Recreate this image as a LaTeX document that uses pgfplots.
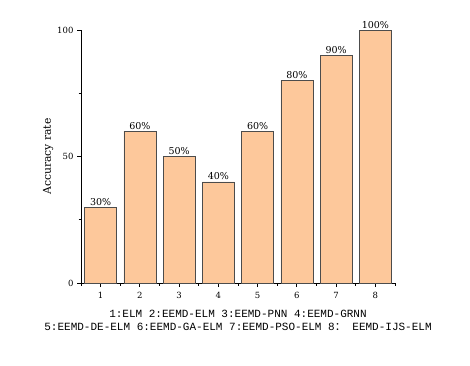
\documentclass[border=0pt]{standalone}
\usepackage{fontspec}
\setmainfont{DejaVu Serif}
\newfontfamily\monofont{Liberation Mono}
\newfontfamily\cjk{Noto Sans CJK SC}
\usepackage{pgfplots}
\pgfplotsset{compat=1.18}
\definecolor{barfill}{RGB}{253,200,155}

\begin{document}
\begin{tikzpicture}[x=1pt,y=1pt]
\path[use as bounding box] (0,0) rectangle (470,365);
\begin{axis}[
  at={(81pt,82pt)}, anchor=south west,
  scale only axis, width=314pt, height=253pt,
  xmin=0.5, xmax=8.5, ymin=0, ymax=100,
  axis x line*=bottom, axis y line*=left,
  axis line style={line width=0.8pt},
  xtick={1,...,8}, minor xtick={0.5,1.5,...,8.5},
  ytick={0,50,100}, minor ytick={25,75},
  tick align=outside, tick style={black, line width=0.8pt},
  major tick length=4pt, minor tick length=2.5pt,
  ylabel={Accuracy rate},
  ylabel style={at={(axis description cs:-0.105,0.5)}, anchor=center, font=\fontsize{10.8}{12}\selectfont},
  ybar, bar width=32pt,
  nodes near coords={\pgfmathprintnumber{\pgfplotspointmeta}\%},
  every node near coord/.append style={font=\fontsize{9.5}{11}\selectfont, black, inner sep=1.5pt},
  tick label style={font=\fontsize{8.5}{10}\selectfont},
  xticklabel style={yshift=-2pt},
  /pgf/number format/assume math mode=true,
]
\addplot[fill=barfill, draw=black!70, line width=0.6pt] coordinates {
  (1,30) (2,60) (3,50) (4,40) (5,60) (6,80) (7,90) (8,100)};
\end{axis}
\node[font=\monofont\fontsize{11}{13}\selectfont] at (238,51) {1:ELM 2:EEMD-ELM 3:EEMD-PNN 4:EEMD-GRNN};
\node[font=\monofont\fontsize{11}{13}\selectfont] at (238,38) {5:EEMD-DE-ELM 6:EEMD-GA-ELM 7:EEMD-PSO-ELM 8{\cjk ：} EEMD-IJS-ELM};
\end{tikzpicture}
\end{document}
